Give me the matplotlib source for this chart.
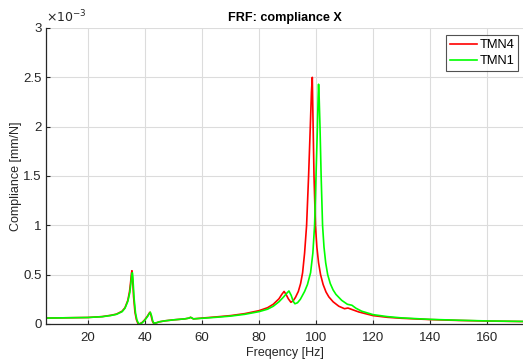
import matplotlib
matplotlib.use("Agg")
import matplotlib.pyplot as plt
from matplotlib.ticker import FuncFormatter

plt.rcParams['font.family'] = ['Liberation Sans', 'DejaVu Sans']

# Frequencies [Hz] and compliance [x1e-3 mm/N]
freq_tmn4 = [5, 10, 15, 20, 25, 28, 30, 32, 33, 34, 34.6, 35.0, 35.25, 35.45, 35.7, 36.0, 36.5,
             37.0, 37.5, 38.0, 39.0, 40.0, 41.0, 41.5, 41.8, 42.2, 42.6, 43.0, 44.0, 45, 47, 50,
             54, 55.5, 56.0, 56.5, 57.0, 60, 65, 70, 75, 80, 83, 85, 87, 88.0, 88.8, 89.5, 90.3,
             91.2, 92.0, 92.8, 93.8, 94.6, 95.3, 96.0, 96.7, 97.4, 98.0, 98.4, 98.7, 98.9, 99.3,
             99.8, 100.3, 100.9, 101.6, 102.5, 103.5, 104.5, 106, 108, 110, 111.2, 112.5, 115,
             120, 125, 130, 140, 150, 160, 172.6]
comp_tmn4 = [0.060, 0.062, 0.064, 0.066, 0.075, 0.088, 0.100, 0.130, 0.165, 0.240, 0.330, 0.430,
             0.510, 0.540, 0.450, 0.280, 0.120, 0.045, 0.008, 0.000, 0.015, 0.045, 0.085, 0.110,
             0.120, 0.080, 0.030, 0.008, 0.012, 0.022, 0.032, 0.042, 0.052, 0.060, 0.068, 0.060,
             0.052, 0.060, 0.072, 0.085, 0.105, 0.135, 0.165, 0.200, 0.255, 0.300, 0.330, 0.300,
             0.255, 0.220, 0.235, 0.270, 0.330, 0.410, 0.520, 0.720, 1.000, 1.500, 2.000, 2.350,
             2.500, 2.150, 1.500, 1.000, 0.780, 0.620, 0.500, 0.400, 0.325, 0.275, 0.225, 0.180,
             0.155, 0.162, 0.148, 0.122, 0.085, 0.068, 0.058, 0.045, 0.036, 0.030, 0.025]

freq_tmn1 = [5, 10, 15, 20, 25, 28, 30, 32, 33, 34, 34.7, 35.1, 35.4, 35.6, 35.85, 36.2, 36.7,
             37.2, 37.7, 38.2, 39.0, 40.0, 41.0, 41.5, 41.9, 42.3, 42.7, 43.1, 44.0, 45, 47, 50,
             54, 55.5, 56.0, 56.5, 57.0, 60, 65, 70, 75, 80, 83, 85, 87, 88.5, 89.7, 90.5, 91.3,
             92.0, 92.6, 93.5, 94.5, 96.0, 97.0, 98.1, 98.9, 99.5, 100.0, 100.5, 100.75, 100.9,
             101.1, 101.4, 101.8, 102.3, 102.8, 103.4, 104.1, 105, 106, 107, 109, 111, 112.6, 114,
             116, 120, 125, 130, 140, 150, 160, 172.6]
comp_tmn1 = [0.060, 0.062, 0.064, 0.066, 0.074, 0.086, 0.098, 0.125, 0.160, 0.230, 0.320, 0.420,
             0.500, 0.520, 0.430, 0.260, 0.110, 0.040, 0.008, 0.000, 0.012, 0.040, 0.080, 0.105,
             0.118, 0.085, 0.035, 0.008, 0.012, 0.022, 0.032, 0.042, 0.052, 0.060, 0.068, 0.060,
             0.052, 0.058, 0.068, 0.080, 0.098, 0.125, 0.150, 0.180, 0.225, 0.270, 0.310, 0.335,
             0.290, 0.230, 0.205, 0.215, 0.250, 0.330, 0.400, 0.520, 0.720, 1.000, 1.500, 2.000,
             2.300, 2.430, 2.300, 2.000, 1.500, 1.000, 0.780, 0.620, 0.500, 0.410, 0.345, 0.300,
             0.240, 0.200, 0.190, 0.160, 0.130, 0.095, 0.075, 0.062, 0.047, 0.038, 0.031, 0.026]

series_labels = ['TMN4', 'TMN1']
x_ticks = [20, 40, 60, 80, 100, 120, 140, 160]
y_ticks = [0, 0.5, 1, 1.5, 2, 2.5, 3]

fig = plt.figure(figsize=(5.23, 3.63), dpi=100)
ax = fig.add_axes([46 / 523, 39 / 363, 1 - 46 / 523, 296 / 363])

ax.plot(freq_tmn4, comp_tmn4, color='#ff0000', lw=1.2, label=series_labels[0])
ax.plot(freq_tmn1, comp_tmn1, color='#00ff00', lw=1.2, label=series_labels[1])

ax.set_xlim(5.3, 172.6)
ax.set_ylim(0, 3)
ax.set_xticks(x_ticks)
ax.set_yticks(y_ticks)
ax.yaxis.set_major_formatter(FuncFormatter(lambda v, p: f'{v:g}'))

tc = '#262626'
ax.tick_params(direction='in', length=3, width=0.8, colors=tc, labelsize=9.5, pad=3)
ax.tick_params(axis='x', pad=6)
ax.grid(True, color='#dcdcdc', lw=0.8)
ax.set_axisbelow(True)
for s in ['top', 'right']:
    ax.spines[s].set_visible(False)
for s in ['left', 'bottom']:
    ax.spines[s].set_color(tc)
    ax.spines[s].set_linewidth(0.9)

ax.set_title('FRF: compliance X', fontsize=9.1, fontweight='bold', color='#000000', pad=5)
ax.set_xlabel('Freqency [Hz]', fontsize=9, color=tc, labelpad=2)
ax.set_ylabel('Compliance [mm/N]', fontsize=9, color=tc, labelpad=1)
ax.text(0.0, 1.008, r'$\times10^{-3}$', transform=ax.transAxes, fontsize=9,
        color=tc, ha='left', va='bottom')

leg = ax.legend(loc='upper right', bbox_to_anchor=(0.99, 0.975), fontsize=9.3, frameon=True,
                fancybox=False, handlelength=2.1, borderpad=0.3, labelspacing=0.3,
                handletextpad=0.2, borderaxespad=0.0)
leg.get_frame().set_edgecolor('#262626')
leg.get_frame().set_linewidth(0.8)

fig.savefig('out.png', dpi=100)
